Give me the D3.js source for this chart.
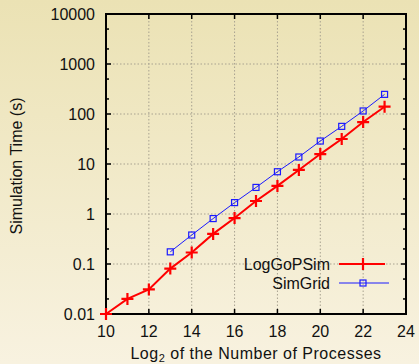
<!DOCTYPE html>
<html>
<head>
<meta charset="utf-8">
<script src="https://cdn.jsdelivr.net/npm/d3@7"></script>
<style>
  body { margin: 0; }
  svg { display: block; font-family: "Liberation Sans", Arial, sans-serif; }
</style>
</head>
<body>
<div id="chart"></div>
<script>
const xTicks = [10, 12, 14, 16, 18, 20, 22, 24];
const yTicks = [0.01, 0.1, 1, 10, 100, 1000, 10000];
const yTickLabels = ["0.01", "0.1", "1", "10", "100", "1000", "10000"];

const logGoPSimX = [10, 11, 12, 13, 14, 15, 16, 17, 18, 19, 20, 21, 22, 23];
const logGoPSimY = [0.01, 0.02, 0.031, 0.081, 0.17, 0.4, 0.83, 1.82, 3.65, 7.6, 15.8, 31.6, 69, 140];

const simGridX = [13, 14, 15, 16, 17, 18, 19, 20, 21, 22, 23];
const simGridY = [0.175, 0.38, 0.81, 1.69, 3.4, 7.0, 13.8, 28.8, 56.6, 115, 247];

const width = 419, height = 364;
const margins = { top: 14, right: 13, bot: 50, left: 106 };
const chartWidth = width - margins.left - margins.right;
const chartHeight = height - margins.top - margins.bot;
const fontSize = 16;

const svg = d3.select("#chart").append("svg")
  .attr("width", width).attr("height", height);

const grad = svg.append("defs").append("linearGradient")
  .attr("id", "bg").attr("x1", 0).attr("y1", 0).attr("x2", 0).attr("y2", 1);
grad.append("stop").attr("offset", "0%").attr("stop-color", "#ebe2b4");
grad.append("stop").attr("offset", "100%").attr("stop-color", "#f8f2e0");
svg.append("rect").attr("width", width).attr("height", height).attr("fill", "url(#bg)");

const xScale = d3.scaleLinear().domain([10, 24]).range([0, chartWidth]);
const yScale = d3.scaleLog().domain([0.01, 10000]).range([chartHeight, 0]);

const g = svg.append("g")
  .attr("transform", `translate(${margins.left},${margins.top})`);

// grid
g.append("g").selectAll("line").data(xTicks.slice(1, -1)).join("line")
  .attr("x1", d => xScale(d)).attr("x2", d => xScale(d))
  .attr("y1", 0).attr("y2", chartHeight)
  .attr("stroke", "#a8a290").attr("stroke-width", 1).attr("stroke-dasharray", "1.5,2");
g.append("g").selectAll("line").data(yTicks.slice(1, -1)).join("line")
  .attr("x1", 0).attr("x2", chartWidth)
  .attr("y1", d => yScale(d)).attr("y2", d => yScale(d))
  .attr("stroke", "#a8a290").attr("stroke-width", 1).attr("stroke-dasharray", "1.5,2");

// minor y ticks at 2 and 5 per decade
const minorY = [];
yTicks.slice(0, -1).forEach(v => { minorY.push(v * 2, v * 5); });

const tickLen = 5;
const ticks = g.append("g").attr("stroke", "#000").attr("stroke-width", 1.5);
xTicks.forEach(d => {
  ticks.append("line").attr("x1", xScale(d)).attr("x2", xScale(d))
    .attr("y1", chartHeight).attr("y2", chartHeight - tickLen);
  ticks.append("line").attr("x1", xScale(d)).attr("x2", xScale(d))
    .attr("y1", 0).attr("y2", tickLen);
});
yTicks.forEach(d => {
  ticks.append("line").attr("x1", 0).attr("x2", tickLen)
    .attr("y1", yScale(d)).attr("y2", yScale(d));
  ticks.append("line").attr("x1", chartWidth).attr("x2", chartWidth - tickLen)
    .attr("y1", yScale(d)).attr("y2", yScale(d));
});
minorY.forEach(d => {
  ticks.append("line").attr("x1", 0).attr("x2", 3)
    .attr("y1", yScale(d)).attr("y2", yScale(d));
  ticks.append("line").attr("x1", chartWidth).attr("x2", chartWidth - 3)
    .attr("y1", yScale(d)).attr("y2", yScale(d));
});

// frame
g.append("rect").attr("width", chartWidth).attr("height", chartHeight)
  .attr("fill", "none").attr("stroke", "#000").attr("stroke-width", 2);

// tick labels
g.append("g").selectAll("text").data(xTicks).join("text")
  .attr("x", d => xScale(d)).attr("y", chartHeight + 23)
  .attr("text-anchor", "middle").attr("font-size", fontSize).attr("fill", "#111")
  .text(d => d);
g.append("g").selectAll("text").data(yTicks).join("text")
  .attr("x", -11).attr("y", d => yScale(d) + 6)
  .attr("text-anchor", "end").attr("font-size", fontSize).attr("fill", "#111")
  .text((d, i) => yTickLabels[i]);

// axis titles
const xTitle = svg.append("text")
  .attr("x", margins.left + chartWidth / 2).attr("y", 359)
  .attr("text-anchor", "middle").attr("font-size", fontSize).attr("fill", "#111")
  .attr("letter-spacing", 0.5);
xTitle.append("tspan").text("Log");
xTitle.append("tspan").attr("font-size", 11).attr("dy", 3).text("2");
xTitle.append("tspan").attr("dy", -3).text(" of the Number of Processes");

svg.append("text")
  .attr("transform", `translate(22,${margins.top + chartHeight / 2 + 2}) rotate(-90)`)
  .attr("text-anchor", "middle").attr("font-size", fontSize).attr("fill", "#111")
  .text("Simulation Time (s)");

// series
const logData = logGoPSimX.map((x, i) => ({ x, y: logGoPSimY[i] }));
const simData = simGridX.map((x, i) => ({ x, y: simGridY[i] }));
const line = d3.line().x(d => xScale(d.x)).y(d => yScale(d.y));

g.append("path").datum(simData).attr("d", line)
  .attr("fill", "none").attr("stroke", "#1a1aff").attr("stroke-width", 1);
g.append("path").datum(logData).attr("d", line)
  .attr("fill", "none").attr("stroke", "#ff0000").attr("stroke-width", 2);

const square = (sel, cx, cy) => {
  sel.append("rect").attr("x", cx - 3).attr("y", cy - 3).attr("width", 6).attr("height", 6)
    .attr("fill", "none").attr("stroke", "#1a1aff").attr("stroke-width", 1.2);
};
const plus = (sel, cx, cy) => {
  sel.append("path").attr("d", `M${cx - 6},${cy}H${cx + 6}M${cx},${cy - 6}V${cy + 6}`)
    .attr("stroke", "#ff0000").attr("stroke-width", 2.2);
};

const simMarks = g.append("g");
simData.forEach(d => square(simMarks, xScale(d.x), yScale(d.y)));
const logMarks = g.append("g");
logData.forEach(d => plus(logMarks, xScale(d.x), yScale(d.y)));

// legend
const legend = svg.append("g");
legend.append("text").attr("x", 330).attr("y", 270)
  .attr("text-anchor", "end").attr("font-size", fontSize).attr("fill", "#111").text("LogGoPSim");
legend.append("line").attr("x1", 339).attr("x2", 385).attr("y1", 264).attr("y2", 264)
  .attr("stroke", "#ff0000").attr("stroke-width", 2);
plus(legend, 363, 264);
legend.append("text").attr("x", 330).attr("y", 289)
  .attr("text-anchor", "end").attr("font-size", fontSize).attr("fill", "#111").text("SimGrid");
legend.append("line").attr("x1", 339).attr("x2", 389).attr("y1", 283).attr("y2", 283)
  .attr("stroke", "#1a1aff").attr("stroke-width", 1);
square(legend, 363, 283);
</script>
</body>
</html>
